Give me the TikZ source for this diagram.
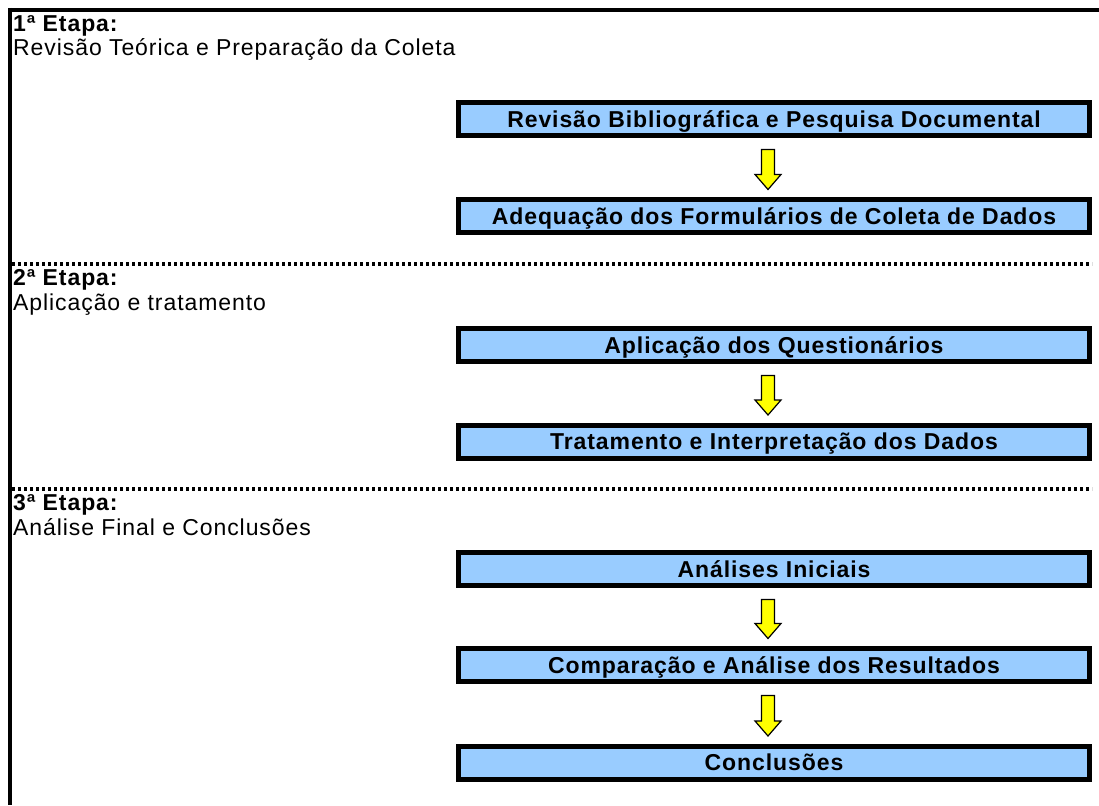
\documentclass[tikz,border=0pt]{standalone}
\usepackage{fontspec}
\setmainfont{Liberation Sans}[LetterSpace=4]
\usetikzlibrary{calc}
\definecolor{boxblue}{HTML}{99CCFF}
\definecolor{arrowyellow}{HTML}{FFFF00}
\tikzset{
  stagebox/.style={draw=black, line width=5pt, fill=boxblue, rectangle,
    minimum width=631pt, minimum height=33pt, inner sep=0pt,
    text height=16.5pt, text depth=0pt, font=\fontsize{23}{27}\selectfont\bfseries},
  headtext/.style={anchor=base west, inner sep=0pt, font=\fontsize{23}{27}\selectfont\bfseries},
  subtext/.style={anchor=base west, inner sep=0pt, font=\fontsize{23}{27}\selectfont},
  yarrow/.style={fill=arrowyellow, draw=black, line width=1.2pt, line join=miter},
  frameline/.style={line width=4pt, draw=black},
  sepline/.style={line width=3.5pt, draw=black, dash pattern=on 3pt off 3pt}
}
\newcommand\blkarrow[2]{%
  \draw[yarrow] let \p1=($(#1.south)+(-6,11.5)$), \p2=($(#2.north)+(-6,-7.5)$) in
    (\x1-6.5pt,\y1) -- (\x1+6.5pt,\y1) -- (\x1+6.5pt,\y2+15pt) -- (\x1+13pt,\y2+15pt)
    -- (\x2,\y2) -- (\x1-13pt,\y2+15pt) -- (\x1-6.5pt,\y2+15pt) -- cycle;}
\begin{document}
\begin{tikzpicture}[x=1pt,y=-1pt]
\useasboundingbox[fill=white] (0,0) rectangle (1099,805);
% frame
\coordinate (tl) at (10,8);
\coordinate (tr) at (1099,10);
\coordinate (bl) at (10,805);
\draw[frameline] (8,10) -- (tr);
\draw[frameline] (tl) -- (bl);
% separators
\coordinate (s1a) at (12,264);
\coordinate (s1b) at (1092,264);
\coordinate (s2a) at (12,489);
\coordinate (s2b) at (1092,489);
\draw[sepline] (s1a) -- (s1b);
\draw[sepline] (s2a) -- (s2b);
% stage labels
\node[headtext] (h1) at (13,32) {1ª Etapa:};
\node[subtext] (t1) at (13,56) {Revisão Teórica e Preparação da Coleta};
\node[headtext] (h2) at (13,285) {2ª Etapa:};
\node[subtext] (t2) at (13,310) {Aplicação e tratamento};
\node[headtext] (h3) at (13,510) {3ª Etapa:};
\node[subtext] (t3) at (13,535) {Análise Final e Conclusões};
% boxes
\node[stagebox] (b1) at (774,119) {Revisão Bibliográfica e Pesquisa Documental};
\node[stagebox] (b2) at (774,216) {Adequação dos Formulários de Coleta de Dados};
\node[stagebox] (b3) at (774,345) {Aplicação dos Questionários};
\node[stagebox] (b4) at (774,441.5) {Tratamento e Interpretação dos Dados};
\node[stagebox] (b5) at (774,569) {Análises Iniciais};
\node[stagebox] (b6) at (774,665) {Comparação e Análise dos Resultados};
\node[stagebox] (b7) at (774,762.5) {Conclusões};
% arrows
\blkarrow{b1}{b2}
\blkarrow{b3}{b4}
\blkarrow{b5}{b6}
\blkarrow{b6}{b7}
\end{tikzpicture}
\end{document}
